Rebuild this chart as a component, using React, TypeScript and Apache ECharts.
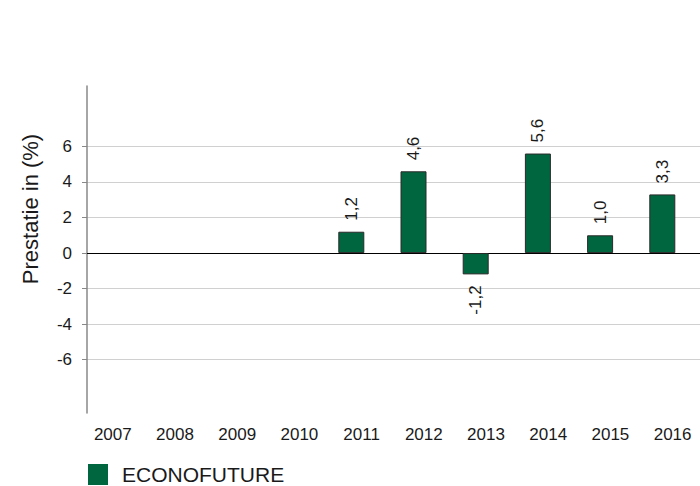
import React, { useEffect, useRef } from "react";
import * as echarts from "echarts";

const years = ["2007", "2008", "2009", "2010", "2011", "2012", "2013", "2014", "2015", "2016"];
const econofuture: (number | null)[] = [null, null, null, null, 1.2, 4.6, -1.2, 5.6, 1.0, 3.3];
const emptySeries: (number | null)[] = [null, null, null, null, null, null, null, null, null, null];
const yTicks = [-6, -4, -2, 0, 2, 4, 6];
const seriesName = "ECONOFUTURE";
const axisTitle = "Prestatie in (%)";

const FONT = '"Liberation Sans", Arial, sans-serif';

export default function App() {
  const ref = useRef<HTMLDivElement>(null);

  useEffect(() => {
    if (!ref.current) return;
    const chart = echarts.init(ref.current, undefined, { renderer: "svg" });

    const fmt = (v: number) => v.toFixed(1).replace(".", ",");

    const data = econofuture.map((v) => {
      if (v == null) return null;
      if (v < 0) {
        return { value: v, label: { position: "bottom", align: "right" } };
      }
      return v;
    });

    chart.setOption({
      animation: false,
      backgroundColor: "#ffffff",
      textStyle: { fontFamily: FONT },
      grid: { left: 87, top: 86, width: 622, height: 327, containLabel: false },
      legend: {
        data: [seriesName],
        left: 88,
        top: 464,
        padding: 0,
        itemWidth: 20,
        itemHeight: 21,
        icon: "rect",
        itemStyle: { borderWidth: 0 },
        textStyle: { fontSize: 21, color: "#1a1a1a", fontFamily: FONT, padding: [0, 0, 0, 9] },
      },
      xAxis: [
        {
          type: "category",
          data: years,
          axisLine: { show: true, onZero: true, lineStyle: { color: "#000", width: 1.2 } },
          axisTick: { show: false },
          axisLabel: { show: false },
          splitLine: { show: false },
        },
        {
          type: "category",
          data: years,
          position: "bottom",
          axisLine: { show: false, onZero: false },
          axisTick: { show: false },
          axisLabel: {
            show: true,
            margin: 13,
            fontSize: 17,
            color: "#1a1a1a",
            fontFamily: FONT,
            padding: [0, 10.6, 0, 0],
          },
          splitLine: { show: false },
        },
      ],
      yAxis: {
        type: "value",
        min: -9,
        max: 9.4,
        axisLine: { show: true, onZero: false, lineStyle: { color: "#888", width: 1.5 } },
        axisTick: {
          show: true,
          customValues: yTicks,
          length: 5,
          lineStyle: { color: "#888", width: 1 },
        },
        axisLabel: {
          show: true,
          customValues: yTicks,
          margin: 15,
          fontSize: 17,
          color: "#1a1a1a",
          fontFamily: FONT,
        },
        splitLine: { show: true, lineStyle: { color: "#d0d0d0", width: 1 } },
      },
      graphic: [
        {
          type: "text",
          x: 30,
          y: 209,
          rotation: Math.PI / 2,
          style: {
            text: axisTitle,
            font: `22px ${FONT}`,
            fill: "#1a1a1a",
            textAlign: "center",
            textVerticalAlign: "middle",
          },
        },
      ],
      series: [
        {
          name: seriesName,
          type: "bar",
          xAxisIndex: 0,
          data,
          barWidth: 26,
          barGap: "20%",
          itemStyle: { color: "#00663F", borderColor: "#2a2a2a", borderWidth: 1 },
          label: {
            show: true,
            position: "top",
            rotate: 90,
            align: "left",
            verticalAlign: "middle",
            distance: 11,
            fontSize: 17,
            color: "#1a1a1a",
            fontFamily: FONT,
            formatter: (p: any) => fmt(p.value),
          },
        },
        {
          name: "benchmark",
          type: "bar",
          xAxisIndex: 0,
          data: emptySeries,
          barWidth: 26,
          itemStyle: { color: "#999" },
        },
      ],
    });

    return () => chart.dispose();
  }, []);

  return (
    <div
      style={{
        position: "fixed",
        left: 0,
        top: 0,
        width: 700,
        height: 486,
        overflow: "hidden",
        background: "#fff",
      }}
    >
      <div ref={ref} style={{ width: 712, height: 486 }} />
    </div>
  );
}
